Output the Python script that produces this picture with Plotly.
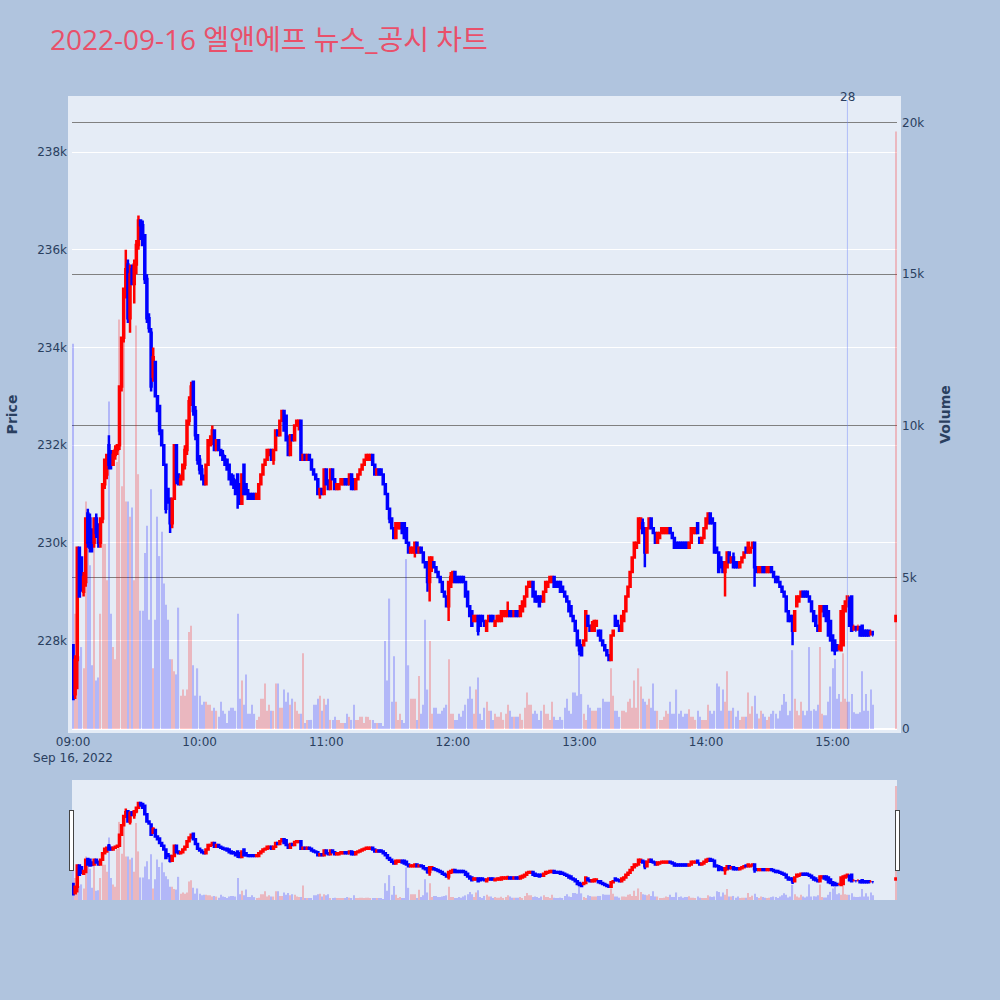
import pandas as pd
import plotly.graph_objects as go

TITLE = "2022-09-16 엘앤에프 뉴스_공시 차트"
TRADE_DATE = "2022-09-16"
SESSION_MINUTES = 380          # continuous trading candles from 09:00
CLOSING_AUCTION = "15:30"
NEWS_TIME = "15:07"
NEWS_LABEL = "28"

# prices in units of 100 KRW, one entry per minute (09:00 ... 15:19, then 15:30)
OPEN = [2279,2269,2276,2299,2297,2290,2292,2306,2305,2302,2300,2305,2303,2300,2305,2312,2314,2320,2318,2316,
        2318,2319,2320,2332,2342,2352,2357,2346,2356,2353,2357,2361,2366,2365,2363,2354,2346,2343,2334,2337,
        2330,2328,2323,2320,2316,2311,2309,2304,2309,2320,2314,2312,2313,2316,2319,2325,2329,2333,2327,2322,
        2317,2315,2313,2312,2316,2320,2321,2323,2319,2321,2319,2318,2317,2317,2316,2314,2313,2312,2314,2312,
        2308,2316,2312,2310,2310,2310,2310,2309,2309,2312,2314,2316,2317,2318,2319,2317,2319,2323,2322,2325,
        2327,2326,2321,2318,2322,2321,2324,2324,2325,2317,2318,2317,2318,2317,2315,2314,2313,2310,2311,2310,
        2315,2312,2311,2315,2313,2311,2311,2312,2312,2313,2313,2312,2314,2313,2311,2313,2314,2315,2316,2317,
        2317,2317,2318,2316,2314,2315,2315,2314,2312,2310,2307,2305,2303,2301,2303,2303,2304,2304,2303,2300,
        2298,2298,2298,2300,2298,2299,2298,2296,2296,2292,2295,2296,2295,2294,2293,2292,2290,2289,2287,2291,
        2292,2294,2293,2293,2293,2293,2292,2290,2287,2286,2284,2284,2285,2285,2285,2284,2282,2284,2285,2285,
        2283,2284,2284,2284,2285,2285,2285,2286,2286,2285,2286,2286,2285,2286,2287,2289,2291,2291,2292,2290,
        2289,2289,2289,2288,2290,2291,2292,2292,2293,2292,2292,2292,2291,2290,2289,2288,2287,2285,2284,2282,
        2280,2279,2279,2280,2285,2283,2282,2282,2283,2282,2282,2280,2279,2278,2277,2276,2281,2285,2284,2283,
        2282,2284,2286,2289,2291,2294,2297,2299,2300,2303,2304,2303,2298,2303,2305,2303,2302,2300,2301,2302,
        2302,2302,2302,2303,2302,2301,2300,2300,2300,2300,2300,2300,2299,2300,2302,2302,2304,2301,2300,2301,
        2303,2304,2306,2305,2304,2299,2298,2297,2296,2294,2295,2298,2296,2297,2296,2296,2295,2296,2297,2299,
        2298,2298,2299,2300,2295,2294,2294,2295,2295,2294,2294,2295,2294,2293,2293,2292,2291,2290,2289,2286,
        2285,2285,2282,2287,2288,2289,2290,2290,2290,2289,2288,2286,2285,2283,2282,2286,2287,2287,2286,2284,
        2281,2280,2279,2279,2278,2279,2286,2287,2288,2289,2283,2282,2283,2282,2283,2282,2282,2282,2282,2281,
        2284]
HIGH = [2279,2277,2299,2299,2297,2294,2305,2307,2306,2303,2305,2306,2304,2305,2312,2317,2318,2322,2319,2319,
        2320,2320,2332,2342,2352,2360,2358,2357,2357,2358,2362,2367,2366,2366,2363,2355,2347,2344,2340,2337,
        2330,2328,2323,2320,2316,2311,2309,2309,2320,2320,2314,2314,2316,2320,2325,2330,2333,2333,2328,2322,
        2318,2316,2314,2316,2321,2322,2324,2323,2321,2321,2319,2319,2318,2317,2316,2314,2314,2313,2314,2312,
        2314,2316,2312,2311,2310,2310,2310,2310,2312,2314,2316,2317,2319,2319,2319,2319,2323,2323,2325,2327,
        2327,2326,2322,2322,2322,2324,2325,2325,2325,2318,2318,2318,2318,2317,2315,2314,2313,2311,2311,2315,
        2315,2313,2315,2315,2313,2312,2312,2313,2313,2313,2313,2314,2314,2313,2313,2314,2315,2316,2317,2318,
        2318,2318,2318,2316,2315,2315,2315,2314,2312,2310,2307,2305,2303,2304,2304,2304,2304,2304,2303,2300,
        2299,2299,2300,2300,2299,2299,2298,2296,2296,2297,2297,2296,2295,2294,2293,2292,2290,2289,2292,2294,
        2294,2294,2293,2293,2293,2293,2292,2290,2287,2286,2285,2285,2285,2285,2285,2284,2284,2285,2285,2285,
        2284,2285,2285,2286,2286,2286,2288,2286,2286,2286,2286,2286,2287,2288,2289,2291,2292,2292,2292,2290,
        2289,2289,2289,2290,2292,2292,2293,2293,2293,2292,2292,2292,2291,2290,2289,2288,2287,2285,2284,2282,
        2280,2279,2280,2286,2285,2283,2284,2284,2284,2282,2282,2280,2279,2278,2277,2281,2282,2285,2284,2283,
        2285,2286,2289,2291,2294,2297,2300,2300,2305,2305,2305,2303,2303,2305,2305,2303,2302,2302,2302,2303,
        2303,2303,2303,2303,2302,2301,2300,2300,2300,2300,2300,2300,2300,2303,2303,2303,2304,2301,2301,2303,
        2305,2306,2306,2305,2304,2299,2298,2297,2296,2296,2298,2298,2297,2298,2296,2296,2296,2297,2298,2299,
        2300,2299,2300,2300,2295,2295,2295,2295,2295,2295,2295,2295,2294,2293,2293,2292,2291,2290,2289,2286,
        2285,2285,2286,2289,2289,2290,2290,2290,2290,2289,2288,2286,2285,2283,2287,2287,2287,2287,2286,2284,
        2281,2280,2279,2279,2279,2286,2287,2288,2289,2289,2283,2283,2283,2283,2283,2282,2282,2282,2282,2282,
        2285]
LOW = [2268,2268,2270,2289,2290,2289,2291,2299,2298,2298,2299,2301,2299,2299,2304,2311,2313,2315,2315,2316,
       2317,2318,2319,2331,2341,2350,2345,2343,2353,2349,2355,2360,2362,2361,2353,2345,2343,2331,2333,2330,
       2327,2322,2320,2316,2306,2308,2302,2303,2309,2312,2312,2312,2313,2315,2318,2324,2328,2326,2321,2316,
       2314,2313,2312,2312,2316,2320,2320,2319,2319,2319,2318,2317,2316,2315,2313,2312,2311,2310,2307,2308,
       2308,2310,2310,2309,2309,2309,2309,2309,2309,2312,2314,2316,2317,2318,2317,2316,2319,2322,2322,2325,
       2323,2321,2318,2318,2321,2321,2324,2323,2317,2317,2317,2317,2317,2315,2314,2313,2310,2309,2310,2310,
       2312,2311,2311,2313,2311,2311,2311,2312,2312,2312,2312,2312,2311,2311,2311,2313,2314,2315,2316,2317,
       2317,2317,2316,2314,2314,2314,2314,2312,2310,2307,2304,2303,2301,2301,2303,2303,2302,2301,2300,2298,
       2298,2298,2297,2298,2298,2298,2296,2295,2290,2288,2294,2295,2294,2293,2292,2290,2289,2287,2284,2291,
       2292,2292,2292,2292,2292,2292,2289,2287,2285,2283,2284,2284,2281,2283,2284,2283,2282,2284,2284,2284,
       2283,2284,2284,2284,2285,2285,2285,2285,2285,2285,2285,2285,2285,2286,2287,2289,2291,2291,2289,2288,
       2288,2287,2288,2288,2290,2291,2292,2292,2291,2291,2291,2290,2290,2289,2288,2286,2285,2284,2282,2279,
       2277,2277,2279,2280,2283,2282,2282,2282,2283,2281,2280,2279,2278,2277,2276,2276,2281,2283,2283,2282,
       2282,2284,2286,2289,2291,2294,2297,2299,2300,2303,2302,2295,2298,2303,2303,2302,2300,2300,2301,2302,
       2302,2302,2302,2302,2301,2299,2299,2299,2299,2299,2299,2299,2299,2300,2302,2302,2302,2300,2300,2301,
       2303,2304,2304,2304,2298,2298,2294,2295,2294,2289,2295,2296,2296,2295,2295,2295,2295,2296,2297,2298,
       2298,2298,2299,2291,2294,2294,2294,2294,2294,2294,2294,2294,2293,2292,2292,2291,2290,2289,2286,2284,
       2284,2279,2282,2287,2288,2289,2289,2289,2289,2288,2286,2284,2283,2282,2282,2286,2285,2285,2284,2281,
       2280,2277,2278,2278,2278,2279,2286,2287,2288,2283,2282,2282,2282,2282,2281,2281,2281,2281,2281,2281,
       2284]
CLOSE = [2268,2276,2299,2289,2291,2293,2305,2300,2299,2300,2305,2302,2300,2305,2312,2317,2318,2316,2316,2318,
         2319,2320,2332,2342,2352,2356,2346,2355,2353,2357,2361,2366,2365,2361,2354,2346,2344,2332,2338,2330,
         2327,2323,2320,2316,2307,2309,2304,2309,2320,2313,2312,2313,2316,2319,2325,2329,2332,2327,2322,2317,
         2315,2313,2312,2316,2321,2321,2323,2319,2321,2319,2318,2317,2316,2315,2313,2312,2312,2310,2311,2308,
         2314,2310,2310,2309,2309,2309,2309,2310,2312,2314,2316,2317,2319,2319,2317,2319,2323,2322,2325,2327,
         2323,2321,2318,2322,2321,2324,2325,2325,2317,2318,2317,2318,2317,2315,2314,2313,2310,2311,2310,2315,
         2312,2311,2315,2313,2311,2312,2312,2313,2313,2312,2312,2314,2311,2311,2313,2314,2315,2316,2317,2318,
         2318,2318,2316,2314,2315,2314,2314,2312,2310,2307,2305,2303,2301,2304,2304,2304,2302,2301,2300,2298,
         2299,2299,2300,2298,2299,2298,2296,2295,2292,2297,2297,2295,2294,2293,2292,2290,2289,2287,2292,2293,
         2294,2292,2292,2292,2292,2292,2289,2287,2285,2283,2285,2285,2282,2283,2284,2283,2284,2285,2284,2284,
         2284,2285,2285,2286,2286,2286,2286,2285,2285,2286,2285,2285,2287,2288,2289,2291,2292,2292,2289,2288,
         2288,2287,2288,2290,2292,2292,2293,2293,2291,2291,2291,2290,2290,2289,2288,2286,2285,2284,2282,2279,
         2278,2277,2280,2286,2283,2282,2283,2284,2284,2281,2280,2279,2278,2277,2276,2281,2282,2283,2283,2282,
         2285,2286,2289,2291,2294,2297,2300,2300,2305,2305,2302,2298,2303,2305,2303,2302,2300,2302,2302,2303,
         2303,2303,2303,2302,2301,2299,2299,2299,2299,2299,2299,2299,2300,2303,2303,2303,2302,2300,2301,2303,
         2305,2306,2304,2304,2298,2298,2294,2295,2294,2296,2298,2296,2297,2295,2295,2295,2296,2297,2298,2298,
         2300,2299,2300,2295,2294,2295,2295,2294,2294,2295,2295,2294,2293,2292,2292,2291,2290,2289,2286,2284,
         2284,2282,2286,2289,2289,2290,2289,2289,2289,2288,2286,2284,2283,2282,2287,2287,2285,2284,2281,2280,
         2278,2278,2278,2279,2286,2287,2288,2289,2283,2282,2283,2282,2283,2281,2281,2281,2281,2281,2282,2281,
         2285]
# volume in thousand shares, same order as the candles
VOLUME_K = [12.7,3.8,3.0,2.4,2.7,2.0,7.5,7.1,5.4,2.1,6.1,1.6,1.7,3.8,6.1,6.1,4.9,10.8,3.8,2.7,
            2.3,8.8,13.5,8.0,13.0,7.5,7.5,7.0,7.3,4.9,13.3,8.4,3.9,3.9,5.8,6.7,3.6,7.9,2.0,3.6,
            7.0,5.7,6.5,4.8,4.1,3.6,2.3,2.3,1.9,1.8,4.0,1.1,1.3,1.1,1.3,3.2,3.4,2.1,1.1,2.0,
            1.1,0.8,0.9,0.9,0.8,0.8,0.6,0.7,0.6,0.4,0.9,0.6,0.5,0.2,0.6,0.7,0.7,0.6,3.8,1.0,
            1.6,0.8,1.8,0.5,0.5,0.8,0.5,0.3,0.4,1.0,1.0,1.5,0.6,0.8,0.6,0.6,1.5,1.5,0.7,0.7,
            1.3,0.9,1.2,0.8,1.0,0.9,0.6,0.5,0.5,2.5,0.2,0.3,0.3,0.3,0.8,0.8,1.0,1.1,0.6,1.0,
            0.8,1.0,0.3,0.3,0.4,0.3,0.3,0.2,0.2,0.2,0.5,0.4,0.3,0.8,0.3,0.3,0.4,0.4,0.2,0.4,
            0.4,0.3,0.3,0.2,0.2,0.2,0.2,0.1,2.9,1.6,4.3,0.9,2.4,0.9,0.3,0.5,0.3,0.2,5.6,2.1,
            1.0,1.0,1.0,0.3,1.75,0.5,0.8,3.6,1.3,2.9,0.5,0.7,0.7,0.5,0.5,0.6,0.7,0.8,2.3,0.5,
            0.5,0.3,0.3,0.5,0.4,0.6,0.8,1.0,1.4,1.0,0.5,1.3,1.7,0.5,0.3,0.7,0.9,0.6,0.6,0.3,
            0.5,0.4,0.4,0.55,0.3,0.5,0.8,0.6,0.4,0.4,0.4,0.4,0.5,0.3,0.7,1.2,0.8,0.8,0.5,0.6,
            0.5,0.3,0.6,0.8,0.5,0.5,0.3,0.9,0.4,0.3,0.3,0.4,0.3,0.7,1.0,0.6,0.5,1.2,1.2,1.1,
            2.5,1.15,0.5,0.3,0.8,0.7,0.6,0.6,0.6,0.7,0.7,1.0,0.9,0.9,0.9,2.0,1.1,0.6,0.6,0.4,
            0.6,0.6,0.55,0.9,1.0,0.7,1.6,0.7,2.0,1.4,1.0,0.9,0.8,1.0,0.7,1.5,0.6,0.6,0.3,0.3,
            0.4,0.6,0.5,0.9,0.5,0.5,1.3,0.5,0.6,0.4,0.5,0.5,0.65,0.4,0.4,0.3,0.6,0.4,0.3,0.3,
            0.3,0.8,0.6,0.5,0.6,1.5,1.4,0.6,1.3,0.9,1.9,0.6,0.6,0.7,0.4,0.6,0.3,0.4,0.4,0.4,
            1.2,0.5,0.75,1.1,0.5,0.35,0.6,0.5,0.4,0.3,0.4,0.5,0.6,0.5,0.35,0.6,0.8,1.15,0.9,0.45,
            0.6,2.6,1.0,0.6,0.45,0.9,0.6,0.45,0.6,2.7,0.6,0.65,0.6,0.8,2.7,0.5,0.45,0.45,0.9,1.4,
            2.0,2.3,1.0,1.15,0.9,2.5,1.0,0.9,0.9,1.15,0.55,0.5,0.5,0.55,1.9,0.6,1.15,0.6,1.3,0.8,
            19.7]

times = list(pd.date_range(f"{TRADE_DATE} 09:00", periods=SESSION_MINUTES, freq="min"))
times.append(pd.Timestamp(f"{TRADE_DATE} {CLOSING_AUCTION}"))

o = [v * 100 for v in OPEN]
h = [v * 100 for v in HIGH]
l = [v * 100 for v in LOW]
c = [v * 100 for v in CLOSE]
vol = [v * 1000 for v in VOLUME_K]
bar_colors = ["red" if cc > oo else "blue" for oo, cc in zip(OPEN, CLOSE)]

fig = go.Figure()
fig.add_trace(go.Bar(
    x=times, y=vol, yaxis="y", width=33000,
    marker=dict(color=bar_colors, line=dict(width=0)),
    opacity=0.22, name="Volume", showlegend=False,
))
fig.add_trace(go.Candlestick(
    x=times, open=o, high=h, low=l, close=c, yaxis="y2",
    increasing=dict(line=dict(color="red", width=2.5), fillcolor="red"),
    decreasing=dict(line=dict(color="blue", width=2.5), fillcolor="blue"),
    name="Price", showlegend=False,
))

news_x = pd.Timestamp(f"{TRADE_DATE} {NEWS_TIME}")
fig.add_shape(type="line", x0=news_x, x1=news_x, xref="x", y0=0, y1=1, yref="paper",
              line=dict(color="rgba(110,130,250,0.45)", width=1))
fig.add_annotation(x=news_x, xref="x", y=1, yref="paper", yanchor="bottom", text=NEWS_LABEL,
                   showarrow=False, font=dict(size=12, color="#2a3f5f"), yshift=-6)

price_range = [min(l) * 0.9973, max(h) * 1.01]

fig.update_layout(
    width=1000, height=1000,
    paper_bgcolor="#B0C4DE",
    plot_bgcolor="#E5ECF6",
    font=dict(family="DejaVu Sans", size=12, color="#2a3f5f"),
    title=dict(text=TITLE, x=0.05, xanchor="left", y=0.96, yanchor="middle",
               font=dict(family="Open Sans, Noto Sans CJK KR", size=28, color="#E9506A")),
    margin=dict(l=72, r=103, t=100, b=100, pad=4),
    showlegend=False,
    xaxis=dict(type="date", showgrid=False, rangeslider=dict(visible=True, thickness=0.15)),
    yaxis=dict(title=dict(text="<b>Volume</b>", standoff=20), side="right", showgrid=True,
               automargin=False,
               gridcolor="gray", zeroline=True, zerolinecolor="white", zerolinewidth=2),
    yaxis2=dict(title=dict(text="<b>Price</b>", standoff=20), side="left", overlaying="y",
                automargin=False,
                range=price_range, showgrid=True, gridcolor="white", zeroline=False),
)

fig.write_html("out.html", config={"displayModeBar": False},
               post_script="document.body.style.margin='0px';")
